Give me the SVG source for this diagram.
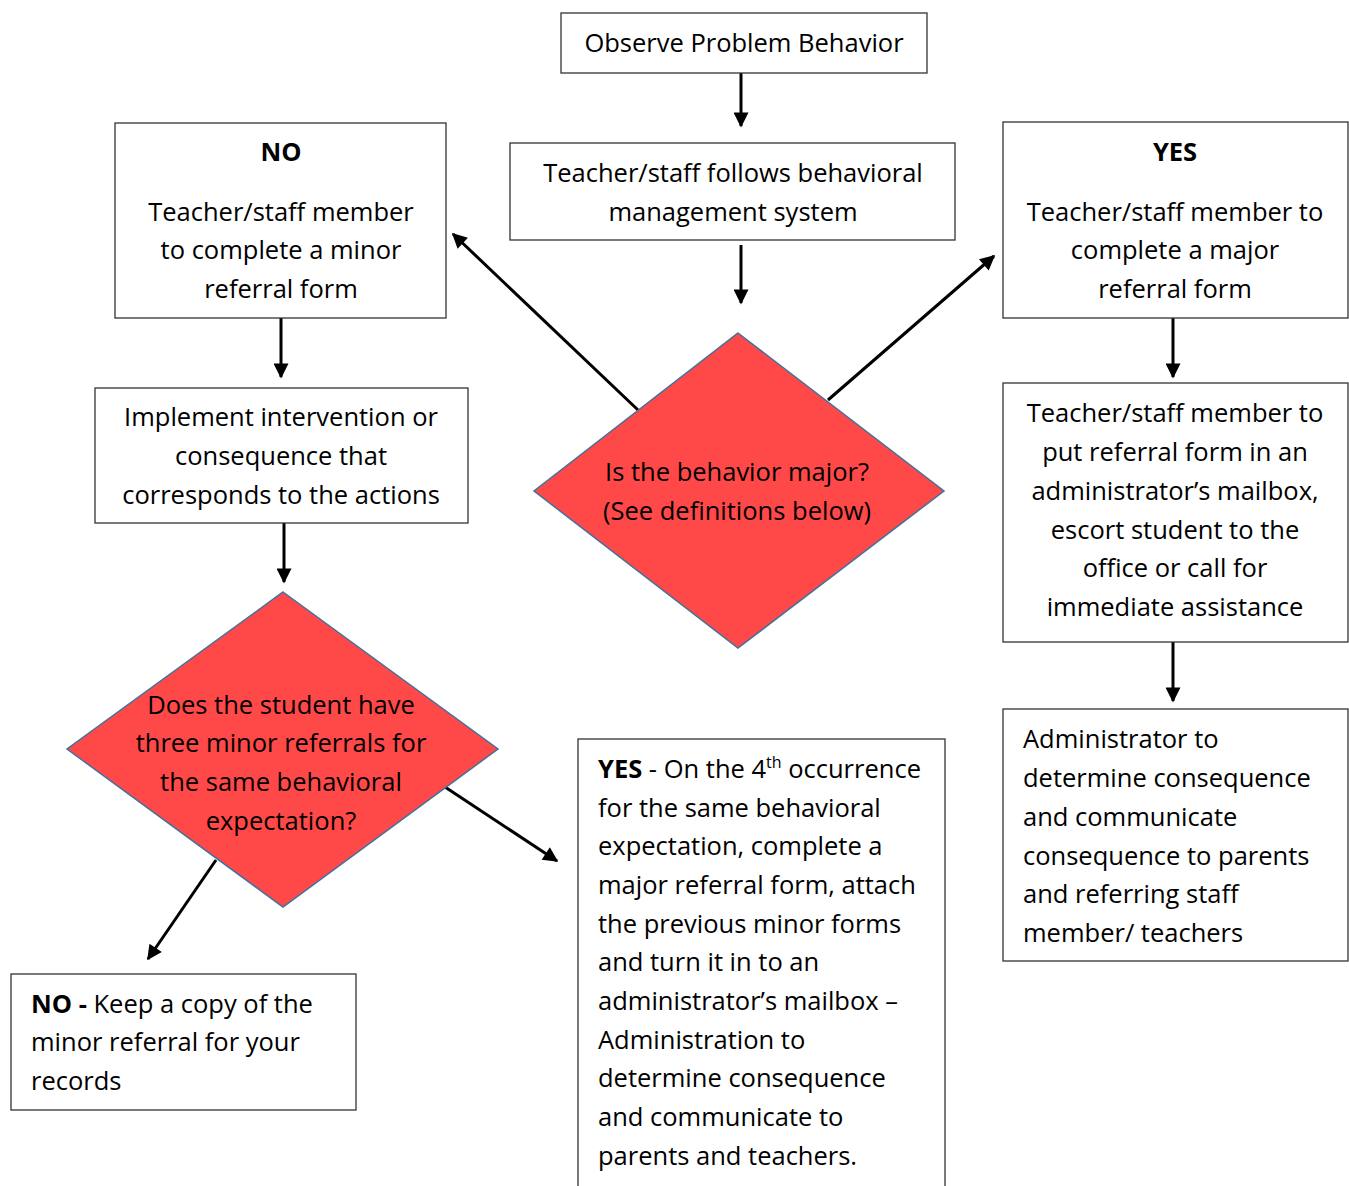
<svg xmlns="http://www.w3.org/2000/svg" width="1349" height="1186" viewBox="0 0 1349 1186">
<style>
.box{fill:#fff;stroke:#333;stroke-width:1.3}
.dia{fill:#FF4848;stroke:#41719C;stroke-width:1.5}
text{font-family:"Open Sans","Liberation Sans",sans-serif;font-size:25.5px;fill:#000}
.c{text-anchor:middle}
.b{font-weight:bold}
.con line{stroke:#000;stroke-width:3;marker-end:url(#ah)}
</style>
<defs>
<marker id="ah" viewBox="0 0 10 10" refX="9" refY="5" markerWidth="5.5" markerHeight="5" orient="auto" markerUnits="strokeWidth">
<path d="M0,0 L10,5 L0,10 z" fill="#000"/>
</marker>
</defs>
<rect width="1349" height="1186" fill="#fff"/>
<g class="con">
<line x1="741" y1="73" x2="741" y2="126"/>
<line x1="741" y1="245" x2="741" y2="303"/>
<line x1="638" y1="410" x2="453" y2="234"/>
<line x1="828" y1="400" x2="994" y2="256"/>
<line x1="281" y1="318" x2="281" y2="377"/>
<line x1="284" y1="523" x2="284" y2="582"/>
<line x1="216" y1="860" x2="148" y2="959"/>
<line x1="445" y1="787" x2="557" y2="861"/>
<line x1="1173" y1="318" x2="1173" y2="377"/>
<line x1="1173" y1="642" x2="1173" y2="701"/>
</g>
<g id="observe">
<rect class="box" x="561" y="13" width="366" height="60"/>
<text class="c" x="744" y="52">Observe Problem Behavior</text>
</g>
<g id="follows">
<rect class="box" x="510" y="143" width="445" height="97"/>
<text class="c" x="733" y="182">Teacher/staff follows behavioral</text>
<text class="c" x="733" y="221">management system</text>
</g>
<g id="major-q">
<polygon class="dia" points="738,333 944,491 738,648 534,491"/>
<text class="c" x="737" y="481">Is the behavior major?</text>
<text class="c" x="737" y="520">(See definitions below)</text>
</g>
<g id="no-minor">
<rect class="box" x="115" y="123" width="331" height="195"/>
<text class="c b" x="281" y="161">NO</text>
<text class="c" x="281" y="221">Teacher/staff member</text>
<text class="c" x="281" y="259">to complete a minor</text>
<text class="c" x="281" y="298">referral form</text>
</g>
<g id="implement">
<rect class="box" x="95" y="388" width="373" height="135"/>
<text class="c" x="281" y="426">Implement intervention or</text>
<text class="c" x="281" y="465">consequence that</text>
<text class="c" x="281" y="504">corresponds to the actions</text>
</g>
<g id="three-q">
<polygon class="dia" points="283,592 498,749 283,907 67,749"/>
<text class="c" x="281" y="714">Does the student have</text>
<text class="c" x="281" y="752">three minor referrals for</text>
<text class="c" x="281" y="791">the same behavioral</text>
<text class="c" x="281" y="830">expectation?</text>
</g>
<g id="no-keep">
<rect class="box" x="11" y="974" width="345" height="136"/>
<text x="31" y="1013"><tspan class="b">NO -</tspan> Keep a copy of the</text>
<text x="31" y="1051">minor referral for your</text>
<text x="31" y="1090">records</text>
</g>
<g id="yes-4th">
<rect class="box" x="578" y="739" width="367" height="450"/>
<text x="598" y="778"><tspan class="b">YES</tspan> - On the 4<tspan font-size="16" dy="-10">th</tspan><tspan dy="10"> occurrence</tspan></text>
<text x="598" y="817">for the same behavioral</text>
<text x="598" y="855">expectation, complete a</text>
<text x="598" y="894">major referral form, attach</text>
<text x="598" y="933">the previous minor forms</text>
<text x="598" y="971">and turn it in to an</text>
<text x="598" y="1010">administrator’s mailbox –</text>
<text x="598" y="1049">Administration to</text>
<text x="598" y="1087">determine consequence</text>
<text x="598" y="1126">and communicate to</text>
<text x="598" y="1165">parents and teachers.</text>
</g>
<g id="yes-major">
<rect class="box" x="1003" y="122" width="345" height="196"/>
<text class="c b" x="1175" y="161">YES</text>
<text class="c" x="1175" y="221">Teacher/staff member to</text>
<text class="c" x="1175" y="259">complete a major</text>
<text class="c" x="1175" y="298">referral form</text>
</g>
<g id="mailbox">
<rect class="box" x="1003" y="383" width="345" height="259"/>
<text class="c" x="1175" y="422">Teacher/staff member to</text>
<text class="c" x="1175" y="461">put referral form in an</text>
<text class="c" x="1175" y="500">administrator’s mailbox,</text>
<text class="c" x="1175" y="539">escort student to the</text>
<text class="c" x="1175" y="577">office or call for</text>
<text class="c" x="1175" y="616">immediate assistance</text>
</g>
<g id="admin">
<rect class="box" x="1003" y="709" width="345" height="252"/>
<text x="1023" y="748">Administrator to</text>
<text x="1023" y="787">determine consequence</text>
<text x="1023" y="826">and communicate</text>
<text x="1023" y="865">consequence to parents</text>
<text x="1023" y="903">and referring staff</text>
<text x="1023" y="942">member/ teachers</text>
</g>
</svg>
